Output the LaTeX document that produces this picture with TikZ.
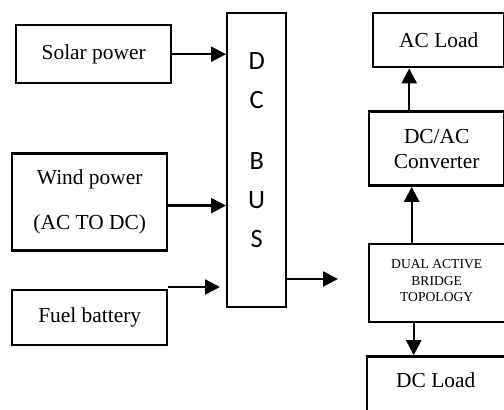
\documentclass[tikz,border=0pt]{standalone}
\usepackage{fontspec}
\setmainfont{Liberation Serif}
\newfontfamily\busfont{Carlito}
\usetikzlibrary{positioning,arrows.meta}

\tikzset{
  block/.style={draw,line width=1.2pt,inner sep=0pt,align=center,
    font=\fontsize{10.7}{12.5}\selectfont},
  flow/.style={-{Triangle[length=7.5pt,width=7.5pt]},line width=1.2pt},
}

\begin{document}
\begin{tikzpicture}[x=0.5pt,y=-0.5pt]
    \useasboundingbox (0,0) rectangle (504,409);
    % sources
    \node[block,minimum width=77.5pt,minimum height=29pt,anchor=north west] (solar) at (15,24) {Solar power};
    \node[block,minimum width=77.5pt,minimum height=48.5pt,below=34pt of solar,xshift=-2pt] (wind)
          {Wind power\\[10pt](AC TO DC)};
    \node[block,minimum width=77.5pt,minimum height=27.5pt,below=18.5pt of wind] (fuel) {Fuel battery};
    \node[block,minimum width=29.5pt,minimum height=147pt,anchor=north west,
          font=\busfont\fontsize{13.2}{19.5}\selectfont] (bus) at (226,12)
          {D\\C\\[11pt]B\\U\\S\\[-9.5pt]\mbox{}};
    % loads
    \node[block,minimum width=65.5pt,minimum height=27pt,anchor=north west] (acload) at (372,12) {AC Load};
    \node[block,minimum width=67.5pt,minimum height=37pt,below=21pt of acload,xshift=-1pt] (dcac)
          {DC/AC\\Converter};
    \node[block,minimum width=68pt,minimum height=39pt,below=28pt of dcac,
          font=\fontsize{6.8}{8.25}\selectfont] (dab) {DUAL ACTIVE\\BRIDGE\\TOPOLOGY\\[-6pt]\mbox{}};
    \node[block,minimum width=69pt,anchor=north,inner ysep=0pt,text height=15.5pt,text depth=40pt,
          below=16pt of dab,xshift=-0.5pt] (dcload) {DC Load};
    \coordinate (fuelin) at (220,287);
    \coordinate (busout) at (338,279);
    \draw[flow] (solar.east) -- (solar.east -| bus.west);
    \draw[flow] ([yshift=-1.75pt]wind.east) -- ([yshift=-1.75pt]wind.east -| bus.west);
    \draw[flow] (fuel.east |- fuelin) -- (fuelin);
    \draw[flow] (bus.east |- busout) -- (busout);
    \draw[flow] ([xshift=-12.5pt]dab.north) -- ([xshift=-12.5pt]dab.north |- dcac.south);
    \draw[flow] ([xshift=-13.75pt]dcac.north) -- ([xshift=-13.75pt]dcac.north |- acload.south);
    \draw[flow] ([xshift=-11.5pt]dab.south) -- ([xshift=-11.5pt]dab.south |- dcload.north);
\end{tikzpicture}
\end{document}
